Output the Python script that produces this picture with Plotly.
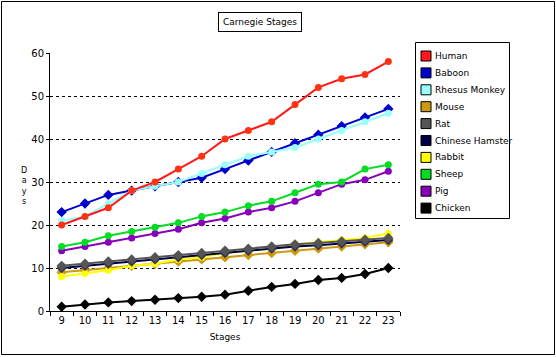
import plotly.graph_objects as go

stages = [str(s) for s in range(9, 24)]
names = ["Human", "Baboon", "Rhesus Monkey", "Mouse", "Rat", "Chinese Hamster",
         "Rabbit", "Sheep", "Pig", "Chicken"]
colors = ["#ff1a1a", "#0000cc", "#99ffff", "#cc9911", "#555555", "#000044",
          "#ffff00", "#00dd22", "#8800bb", "#000000"]
marker_colors = ["#ff3311", "#0000cc", "#99ffff", "#cc9911", "#555555", "#333355",
                 "#ffff00", "#00dd22", "#8800bb", "#000000"]
human = [20, 22, 24, 28, 30, 33, 36, 40, 42, 44, 48, 52, 54, 55, 58]
baboon = [23, 25, 27, 28, 29, 30, 31, 33, 35, 37, 39, 41, 43, 45, 47]
rhesus = [21, 22, 25, 28, 29, 30, 32, 34, 36, 37, 38, 40, 42, 44, 46]
mouse = [9, 9.5, 10, 10.5, 11, 11.5, 12, 12.5, 13, 13.5, 14, 14.5, 15, 15.5, 16]
rat = [10.5, 11, 11.5, 12, 12.5, 13, 13.5, 14, 14.5, 15, 15.5, 15.8, 16.2, 16.6, 17]
hamster = [10, 10.5, 11, 11.5, 12, 12.5, 13, 13.5, 14, 14.5, 15, 15.3, 15.7, 16.1, 16.5]
rabbit = [8, 8.7, 9.5, 10.5, 11, 12, 12.5, 13.5, 14, 14.5, 15.5, 16, 16.5, 17, 18]
sheep = [15, 16, 17.5, 18.5, 19.5, 20.5, 22, 23, 24.5, 25.5, 27.5, 29.5, 30, 33, 34]
pig = [14, 15, 16, 17, 18, 19, 20.5, 21.5, 23, 24, 25.5, 27.5, 29.5, 30.5, 32.5]
chicken = [1, 1.5, 2, 2.3, 2.6, 3, 3.3, 3.8, 4.7, 5.6, 6.3, 7.2, 7.7, 8.6, 10]
series = [human, baboon, rhesus, mouse, rat, hamster, rabbit, sheep, pig, chicken]
symbols = ["circle", "diamond", "circle", "diamond", "diamond", "diamond",
           "circle", "circle", "circle", "diamond"]

FONT = "DejaVu Sans"
W, H = 556, 357
L, R, T, B = 50, 156, 53, 46
pw, ph = W - L - R, H - T - B

def px(x):
    return (x - L) / pw

def py(y):
    return (H - B - y) / ph

fig = go.Figure()
draw_order = [9, 3, 6, 5, 4, 8, 7, 1, 2, 0]
for i in draw_order:
    fig.add_trace(go.Scatter(
        x=stages, y=series[i], name=names[i], mode="lines+markers",
        line=dict(color=colors[i], width=2),
        marker=dict(color=marker_colors[i],
                    size=8 if symbols[i] == "diamond" else 7,
                    symbol=symbols[i], line=dict(width=0)),
        showlegend=False))

# title box
fig.add_annotation(x=px(260), y=py(21.5), xref="paper", yref="paper",
                   text="Carnegie Stages", showarrow=False,
                   xanchor="center", yanchor="middle",
                   font=dict(family=FONT, size=9, color="black"),
                   bordercolor="black", borderwidth=1, bgcolor="white",
                   borderpad=4)

# y-axis title (stacked letters)
fig.add_annotation(x=px(24), y=py(186), xref="paper", yref="paper",
                   text="D<br>a<br>y<br>s", showarrow=False,
                   xanchor="center", yanchor="middle",
                   font=dict(family=FONT, size=8, color="black"))

shapes = []
# outer border
shapes.append(dict(type="rect", xref="paper", yref="paper",
                   x0=px(1.5), x1=px(554.5), y0=py(354.5), y1=py(1.5),
                   line=dict(color="black", width=1)))
# legend box
shapes.append(dict(type="rect", xref="paper", yref="paper",
                   x0=px(415.5), x1=px(509.5), y0=py(218.5), y1=py(42.5),
                   line=dict(color="black", width=1), fillcolor="white"))
for k, (n, c) in enumerate(zip(names, colors)):
    yc = 56 + k * 16.9
    shapes.append(dict(type="rect", xref="paper", yref="paper",
                       x0=px(421), x1=px(431), y0=py(yc + 5), y1=py(yc - 5),
                       line=dict(color="black", width=1), fillcolor=c))
    fig.add_annotation(x=px(433), y=py(yc), xref="paper", yref="paper",
                       text=n, showarrow=False, xanchor="left", yanchor="middle",
                       font=dict(family=FONT, size=9, color="black"))

fig.update_layout(
    width=W, height=H, margin=dict(l=L, r=R, t=T, b=B),
    paper_bgcolor="white", plot_bgcolor="white",
    shapes=shapes, showlegend=False,
    font=dict(family=FONT, size=10, color="black"),
    xaxis=dict(type="category", range=[-0.5, 14.5], tickson="boundaries",
               ticks="outside", ticklen=4, tickcolor="black",
               showline=True, linecolor="black", linewidth=1,
               showgrid=False, zeroline=False,
               title=dict(text="Stages", font=dict(size=9), standoff=8),
               tickfont=dict(size=10)),
    yaxis=dict(range=[0, 60], dtick=10, ticks="outside", ticklen=3,
               tickcolor="black", showline=True, linecolor="black",
               linewidth=1, showgrid=True, gridcolor="black", griddash="dot",
               gridwidth=1, zeroline=False, tickfont=dict(size=10)),
)
fig.write_html("out.html")
